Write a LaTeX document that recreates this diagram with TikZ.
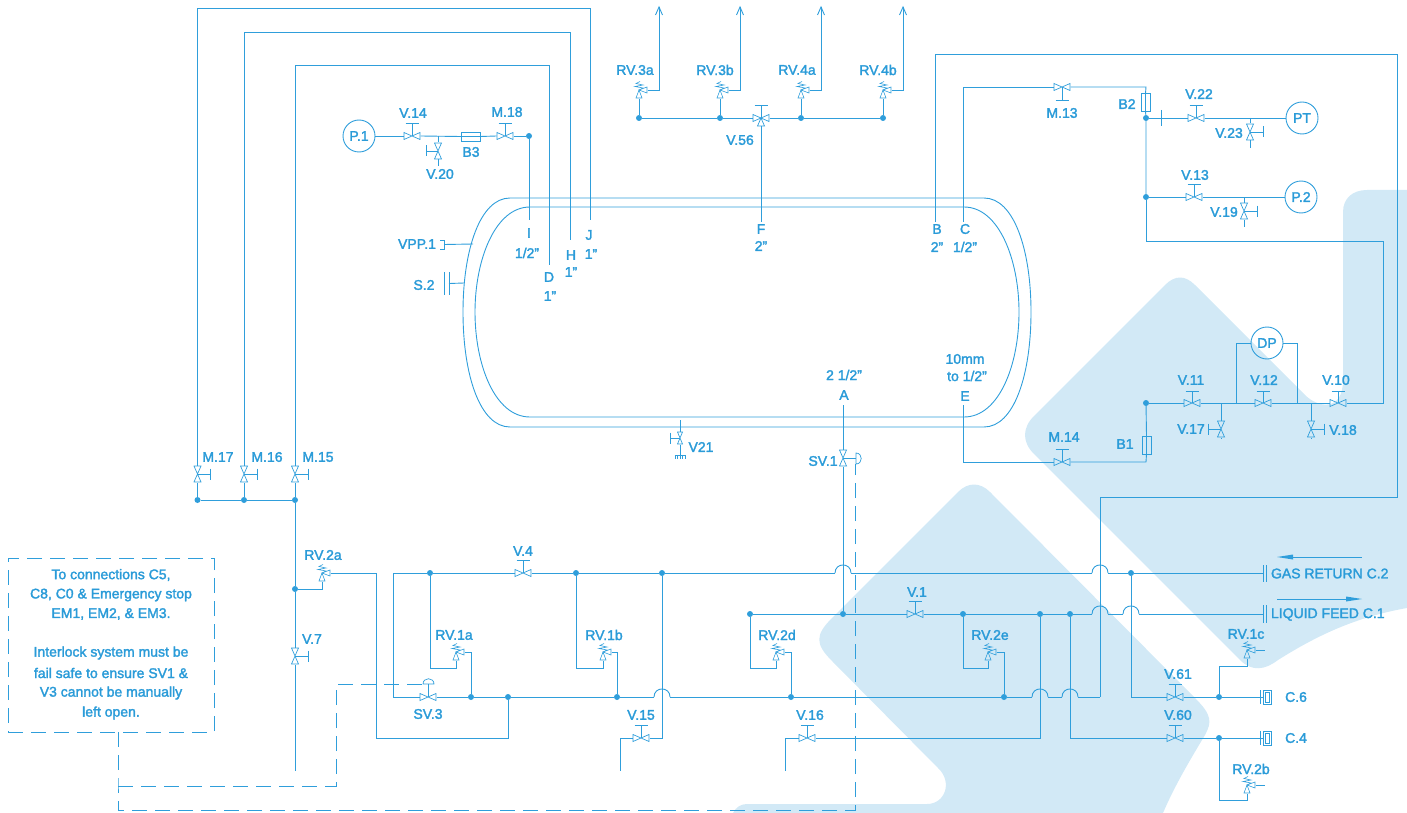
\documentclass[tikz,border=0pt]{standalone}
\usepackage{fontspec}
\setmainfont{Liberation Sans}[FakeBold=2]
\definecolor{pcol}{HTML}{2F9EDB}
\definecolor{tcol}{HTML}{2A9BD8}
\definecolor{bgcol}{HTML}{D2E9F6}
\newcount\labn
\newcommand\lab[3]{\global\advance\labn by 1 \node[lab] (T\the\labn) at (#1,#2) {#3};}
\newcommand\stemU[2]{\draw[sym] (#1.center) -- ++(0,-#2) ++(-6.5,0) -- ++(13,0);}
\newcommand\stemD[2]{\draw[sym] (#1.center) -- ++(0,#2) ++(-6.5,0) -- ++(13,0);}
\newcommand\stemR[2]{\draw[sym] (#1.center) -- ++(#2,0) ++(0,-5.5) -- ++(0,11);}
\newcommand\stemL[2]{\draw[sym] (#1.center) -- ++(-#2,0) ++(0,-5.5) -- ++(0,11);}
\newcommand\hop[3]{\coordinate (#1L) at (#2-8,#3); \coordinate (#1R) at (#2+8,#3);
  \draw[pipe] (#1L) .. controls +(0,-10.7) and +(0,-10.7) .. (#1R);}
\begin{document}
\begin{tikzpicture}[x=1pt,y=-1pt,
  pipe/.style={draw=pcol,line width=0.9pt},
  sym/.style={draw=pcol,line width=0.7pt},
  dashp/.style={draw=pcol,line width=0.9pt,dash pattern=on 15pt off 8pt},
  lab/.style={text=tcol,font=\fontsize{14}{16}\selectfont,inner sep=0pt,outer sep=0pt},
  dot/.style={circle,fill=pcol,inner sep=0pt,minimum size=6pt,outer sep=0pt},
  gauge/.style={circle,draw=pcol,line width=0.9pt,minimum size=32pt,inner sep=0pt,outer sep=0pt,text=tcol,font=\fontsize{14}{16}\selectfont},
  vh/.style={rectangle,inner sep=0pt,outer sep=0pt,minimum width=17pt,minimum height=8pt,
    path picture={\draw[sym,shift={(path picture bounding box.center)}] (-8,-3.5)--(8,3.5)--(8,-3.5)--(-8,3.5)--cycle;}},
  vv/.style={rectangle,inner sep=0pt,outer sep=0pt,minimum width=8pt,minimum height=17pt,
    path picture={\draw[sym,shift={(path picture bounding box.center)}] (-3.5,-8)--(3.5,-8)--(-3.5,8)--(3.5,8)--cycle;}},
  vt/.style={rectangle,inner sep=0pt,outer sep=0pt,minimum width=17pt,minimum height=17pt,
    path picture={\draw[sym,shift={(path picture bounding box.center)}] (-8,-3.5)--(8,3.5)--(8,-3.5)--(-8,3.5)--cycle (0,0)--(-3.5,8)--(3.5,8)--cycle;}},
  vs/.style={rectangle,inner sep=0pt,outer sep=0pt,minimum width=6pt,minimum height=13pt,
    path picture={\draw[sym,shift={(path picture bounding box.center)}] (-2.5,-6)--(2.5,-6)--(-2.5,6)--(2.5,6)--cycle;}},
  rv/.style={rectangle,inner sep=0pt,outer sep=0pt,minimum width=17pt,minimum height=18pt,
    path picture={\draw[draw=pcol,line width=0.6pt,shift={(path picture bounding box.center)}] (0,0)--(-3,8)--(3,8)--cycle (0,0)--(8,-3)--(8,3)--cycle
      (0,0)--(4,-2)--(-4,-3.5)--(4,-5)--(-3,-6.5)--(1,-8.5);}},
  break/.style={rectangle,draw=pcol,line width=0.7pt,inner sep=0pt,outer sep=0pt,minimum width=9pt,minimum height=18pt},
  conn/.style={rectangle,draw=pcol,line width=0.7pt,inner sep=0pt,outer sep=0pt,minimum width=8pt,minimum height=14pt,
    path picture={\draw[sym,shift={(path picture bounding box.center)}] (-2,-5)rectangle(2,5);}},
]
\useasboundingbox (0,0) rectangle (1407,813);
% background
\fill[bgcol] (1165,285) .. controls (1175,275) and (1185,275) .. (1195,285) -- (1305,395)
  .. controls (1318,408) and (1343,412) .. (1343,380) -- (1343,212)
  .. controls (1343,198) and (1353,190) .. (1367,190) -- (1407,190) -- (1407,608)
  .. controls (1350,618) and (1310,640) .. (1278,660)
  .. controls (1265,670) and (1252,672) .. (1240,660) -- (1034,454)
  .. controls (1022,442) and (1022,428) .. (1034,416) -- cycle;
\fill[bgcol] (958,492) .. controls (968,482) and (980,482) .. (990,492) -- (1195,698)
  .. controls (1212,715) and (1212,722) .. (1205,735)
  .. controls (1190,760) and (1175,785) .. (1163,813) -- (733,813)
  .. controls (736,807) and (741,804) .. (747,804) -- (927,804)
  .. controls (945,804) and (953,782) .. (938,768) -- (832,661)
  .. controls (815,644) and (815,635) .. (832,618) -- cycle;

% ---- vessel
\draw[pipe] (510,198) -- (984,198) .. controls (1014,198) and (1031,250) .. (1031,312)
  .. controls (1031,375) and (1014,427) .. (984,427) -- (510,427)
  .. controls (480,427) and (463,375) .. (463,312) .. controls (463,250) and (480,198) .. (510,198) -- cycle;
\draw[pipe] (530,207) -- (964,207) .. controls (999,207) and (1019,260) .. (1019,312)
  .. controls (1019,365) and (999,417) .. (964,417) -- (530,417)
  .. controls (495,417) and (475,365) .. (475,312) .. controls (475,260) and (495,207) .. (530,207) -- cycle;
\coordinate (vesL1) at (473,244); \coordinate (vesL2) at (464,283);

% ---- junction dots
\node[dot] (d17) at (197.5,500) {};
\node[dot] (d16) at (244,500) {};
\node[dot] (d15) at (295,500) {};
\node[dot] (d2a) at (295,589) {};
\node[dot] (dI) at (529,136) {};
\node[dot] (m1) at (639,118) {};
\node[dot] (m2) at (720,118) {};
\node[dot] (m3) at (801,118) {};
\node[dot] (m4) at (883,118) {};
\node[dot] (dB2) at (1146,118) {};
\node[dot] (dP2) at (1146,197) {};
\node[dot] (dB1) at (1146,403) {};
\node[dot] (g1) at (430,573) {};
\node[dot] (g2) at (576,573) {};
\node[dot] (g3) at (662,573) {};
\node[dot] (g4) at (1131,573) {};
\node[dot] (l1) at (750,614) {};
\node[dot] (l2) at (843,614) {};
\node[dot] (l3) at (963,614) {};
\node[dot] (l4) at (1040,614) {};
\node[dot] (l5) at (1070,614) {};
\node[dot] (b1) at (471,697) {};
\node[dot] (b2) at (508,697) {};
\node[dot] (b3) at (617,697) {};
\node[dot] (b4) at (791,697) {};
\node[dot] (b5) at (1004,697) {};
\node[dot] (r1) at (1219,697) {};
\node[dot] (r2) at (1219,738) {};

% ---- valves
\node[vv] (M17) at (197.5,474) {}; \stemR{M17}{13}
\node[vv] (M16) at (244,474) {}; \stemR{M16}{13}
\node[vv] (M15) at (295,474) {}; \stemR{M15}{13}
\node[vv] (V7) at (295,656) {}; \stemR{V7}{13}
\node[vh] (V14) at (412,136) {}; \stemU{V14}{13}
\node[vv] (V20) at (438,151) {}; \stemL{V20}{12}
\node[vh] (M18) at (505,136) {}; \stemU{M18}{13}
\node[vt] (V56) at (761,118) {}; \stemU{V56}{13}
\node[vh] (M13) at (1062,87) {}; \stemD{M13}{13}
\node[vh] (V22) at (1196,118) {}; \stemU{V22}{13}
\node[vv] (V23) at (1250,132) {}; \stemR{V23}{13}
\node[vh] (V13) at (1194,197) {}; \stemU{V13}{13}
\node[vv] (V19) at (1244,211) {}; \stemR{V19}{13}
\node[vh] (V11) at (1192,403) {}; \stemU{V11}{12}
\node[vh] (V12) at (1263,403) {}; \stemU{V12}{12}
\node[vh] (V10) at (1338,403) {}; \stemU{V10}{12}
\node[vv] (V17) at (1221,429) {}; \stemL{V17}{13}
\node[vv] (V18) at (1311,429) {}; \stemR{V18}{13}
\node[vh] (M14) at (1062,462) {}; \stemU{M14}{13}
\node[vv] (SV1) at (843,458) {};
\node[vh] (V4) at (523,573) {}; \stemU{V4}{13}
\node[vh] (V1) at (915,614) {}; \stemU{V1}{13}
\node[vh] (SV3) at (428,697) {};
\node[vh] (V15) at (641,738) {}; \stemU{V15}{13}
\node[vh] (V16) at (807,738) {}; \stemU{V16}{13}
\node[vh] (V61) at (1175,697) {}; \stemU{V61}{13}
\node[vh] (V60) at (1175,738) {}; \stemU{V60}{13}
\node[vs] (V21) at (680,438) {}; \stemL{V21}{10}

% ---- relief valves
\node[rv] (R3a) at (639,90) {};
\node[rv] (R3b) at (720,90) {};
\node[rv] (R4a) at (801,90) {};
\node[rv] (R4b) at (883,90) {};
\node[rv] (R2a) at (322,573) {};
\node[rv] (R1a) at (456,652) {};
\node[rv] (R1b) at (603,652) {};
\node[rv] (R2d) at (776,652) {};
\node[rv] (R2e) at (988,652) {};
\node[rv] (R1c) at (1247,650) {};
\node[rv] (R2b) at (1247,785) {};

% ---- gauges and breaks
\node[gauge] (P1) at (359,136) {P.1};
\node[gauge] (PT) at (1302,118) {PT};
\node[gauge] (P2) at (1301,197) {P.2};
\node[gauge] (DP) at (1267,343) {DP};
\node[break,minimum width=19pt,minimum height=9pt] (B3) at (470.5,136.5) {};
\node[break] (B2) at (1145.5,102) {};
\node[break] (B1) at (1146.5,445) {};
\draw[sym] (B3.west) -- (B3.east);
\draw[sym] (B2.north) -- (B2.south);
\draw[sym] (B1.north) -- (B1.south);
\node[conn] (C6) at (1267,697) {};
\node[conn] (C4) at (1267,738) {};

% ---- upper-left sense lines
\coordinate (jt1) at (197.5,8); \coordinate (jt2) at (590,8); \coordinate (Jend) at (590,220);
\coordinate (ht1) at (244,32); \coordinate (ht2) at (570,32); \coordinate (Hend) at (570,240);
\coordinate (dt1) at (295,65); \coordinate (dt2) at (549,65); \coordinate (Dend) at (549,265);
\coordinate (Iend) at (529,220);
\draw[pipe] (d17) -- (M17.south);
\draw[pipe] (M17.north) -- (jt1) -- (jt2) -- (Jend);
\draw[pipe] (d16) -- (M16.south);
\draw[pipe] (M16.north) -- (ht1) -- (ht2) -- (Hend);
\draw[pipe] (d15) -- (M15.south);
\draw[pipe] (M15.north) -- (dt1) -- (dt2) -- (Dend);
\draw[pipe] (d17) -- (d16) -- (d15) -- (d2a);
\draw[pipe] (d2a) -- (V7.north);
\coordinate (v7end) at (295,771);
\draw[pipe] (V7.south) -- (v7end);
\draw[pipe] (dI) -- (Iend);

% P.1 line
\coordinate (v20t) at (438,136); \coordinate (v20b) at (438,166);
\draw[pipe] (P1) -- (V14.west);
\draw[pipe] (V14.east) -- (B3.west);
\draw[pipe] (B3.east) -- (M18.west);
\draw[pipe] (M18.east) -- (dI);
\draw[pipe] (v20t) -- (V20.north);
\draw[pipe] (V20.south) -- (v20b);

% vent manifold
\draw[pipe] (m1) -- (m2) -- (V56.west);
\draw[pipe] (V56.east) -- (m3) -- (m4);
\coordinate (Fend) at (761,222);
\draw[pipe] (V56.south) -- (Fend);
\draw[pipe] (m1) -- (R3a.south);
\draw[pipe] (m2) -- (R3b.south);
\draw[pipe] (m3) -- (R4a.south);
\draw[pipe] (m4) -- (R4b.south);
\foreach \n/\x in {R3a/659,R3b/740,R4a/821,R4b/903}{
  \coordinate (\n c) at (\x,90); \coordinate (\n t) at (\x,7);
  \draw[pipe] (\n.east) -- (\n c) -- (\n t);
  \draw[pipe] (\x-3.5,15) -- (\n t) -- (\x+3.5,15);
}

% right side
\coordinate (Bend) at (935,222); \coordinate (Bc1) at (935,54); \coordinate (Bc2) at (1397,54);
\coordinate (Bc3) at (1397,497); \coordinate (Bc4) at (1100,497); \coordinate (Bc5) at (1100,697);
\draw[pipe] (Bend) -- (Bc1) -- (Bc2) -- (Bc3) -- (Bc4) -- (Bc5);
\coordinate (Cend) at (963,222); \coordinate (Cc1) at (963,87); \coordinate (Cc2) at (1146,87);
\draw[pipe] (Cend) -- (Cc1) -- (M13.west);
\draw[pipe] (M13.east) -- (Cc2) -- (B2.north);
\draw[pipe] (B2.south) -- (dB2) -- (dP2);
\coordinate (c3) at (1146,241); \coordinate (c4) at (1383,241); \coordinate (c5) at (1383,403);
\draw[pipe] (dP2) -- (c3) -- (c4) -- (c5) -- (V10.east);
\coordinate (tick1) at (1161,110); \coordinate (tick2) at (1161,126);
\draw[pipe] (tick1) -- (tick2);
\draw[pipe] (dB2) -- (V22.west);
\draw[pipe] (V22.east) -- (PT);
\coordinate (v23t) at (1250,118); \coordinate (v23b) at (1250,148);
\draw[pipe] (v23t) -- (V23.north); \draw[pipe] (V23.south) -- (v23b);
\draw[pipe] (dP2) -- (V13.west);
\draw[pipe] (V13.east) -- (P2);
\coordinate (v19t) at (1244,197); \coordinate (v19b) at (1244,227);
\draw[pipe] (v19t) -- (V19.north); \draw[pipe] (V19.south) -- (v19b);
\draw[pipe] (dB1) -- (V11.west);
\coordinate (dpl) at (1236,403); \coordinate (dpr) at (1297,403);
\coordinate (v17t) at (1221,403); \coordinate (v18t) at (1311,403);
\coordinate (v17b) at (1221,438); \coordinate (v18b) at (1311,438);
\draw[pipe] (V11.east) -- (V12.west);
\draw[pipe] (V12.east) -- (V10.west);
\draw[pipe] (v17t) -- (V17.north); \draw[pipe] (V17.south) -- (v17b);
\draw[pipe] (v18t) -- (V18.north); \draw[pipe] (V18.south) -- (v18b);
\draw[pipe] (dpl) |- (DP.west);
\draw[pipe] (dpr) |- (DP.east);
\draw[pipe] (dB1) -- (B1.north);
\coordinate (ec1) at (1146,462); \coordinate (ec2) at (963,462); \coordinate (Eend) at (963,405);
\draw[pipe] (B1.south) -- (ec1) -- (M14.east);
\draw[pipe] (M14.west) -- (ec2) -- (Eend);

% vessel stubs
\node[inner sep=0pt,outer sep=0pt,minimum width=4pt,minimum height=9pt] (VPP) at (442,244.5) {};
\draw[sym] (VPP.north west) -- (VPP.north east) -- (VPP.south east) -- (VPP.south west);
\draw[pipe] (VPP.east) -- (vesL1);
\node[inner sep=0pt,outer sep=0pt,minimum width=5pt,minimum height=23pt] (S2) at (446.5,283.5) {};
\draw[sym] (S2.north west) -- (S2.south west);
\draw[sym] (S2.north east) -- (S2.south east);
\draw[pipe] (S2.east) -- (vesL2);
% V21
\coordinate (v21t) at (680,420);
\node[inner sep=0pt,outer sep=0pt,minimum width=11pt,minimum height=4pt] (gnd) at (680,457) {};
\draw[pipe] (v21t) -- (V21.north);
\draw[pipe] (V21.south) -- (gnd.north);
\draw[sym] (gnd.north west) -- (gnd.north east);
\foreach \x in {675,677.5,680,682.5,685}{\draw[draw=pcol,line width=0.5pt] (\x,455) -- (\x,459);}

% A line and SV.1
\coordinate (Aend) at (843,405);
\draw[pipe] (Aend) -- (SV1.north);
\draw[pipe] (SV1.south) -- (l2);
\coordinate (sv1h) at (856,458);
\draw[sym] (SV1.center) -- (sv1h);
\draw[sym] (856,453) .. controls (863,453) and (863,464) .. (856,464) -- cycle;

% gas return (upper) line
\hop{ha}{843}{573}
\hop{hb}{1100}{573}
\hop{hc}{1100}{614}
\hop{hd}{1131}{614}
\hop{he}{662}{697}
\hop{hf}{1040}{697}
\hop{hg}{1070}{697}
\coordinate (gc0) at (393,573); \coordinate (gc1) at (393,697);
\draw[pipe] (gc1) -- (gc0) -- (g1) -- (V4.west);
\draw[pipe] (V4.east) -- (g2) -- (g3) -- (haL);
\coordinate (Gend) at (1263,573);
\draw[pipe] (haR) -- (hbL);
\draw[pipe] (hbR) -- (g4) -- (Gend);
\draw[pipe] (gc1) -- (SV3.west);
\draw[pipe] (SV3.east) -- (b1) -- (b2) -- (b3) -- (heL);
\draw[pipe] (heR) -- (b4) -- (b5) -- (hfL);
\draw[pipe] (hfR) -- (hgL);
\draw[pipe] (hgR) -- (Bc5);
% liquid line
\coordinate (Lend) at (1263,614);
\draw[pipe] (l1) -- (l2) -- (V1.west);
\draw[pipe] (V1.east) -- (l3) -- (l4) -- (l5) -- (hcL);
\draw[pipe] (hcR) -- (hdL);
\draw[pipe] (hdR) -- (Lend);
% terminal bars
\draw[sym] (1263,565) -- (1263,582) (1266,565) -- (1266,582);
\draw[sym] (1263,605) -- (1263,623) (1266,605) -- (1266,623);

% RV.2a
\coordinate (r2ac) at (322,589);
\coordinate (r2a1) at (376,573); \coordinate (r2a2) at (376,738); \coordinate (r2a3) at (508,738);
\draw[pipe] (d2a) -- (r2ac) -- (R2a.south);
\draw[pipe] (R2a.east) -- (r2a1) -- (r2a2) -- (r2a3) -- (b2);
% RV.1a etc
\coordinate (r1a1) at (430,668); \coordinate (r1a2) at (456,668); \coordinate (r1a3) at (471,652);
\draw[pipe] (g1) -- (r1a1) -- (r1a2) -- (R1a.south);
\draw[pipe] (R1a.east) -- (r1a3) -- (b1);
\coordinate (r1b1) at (576,668); \coordinate (r1b2) at (603,668); \coordinate (r1b3) at (617,652);
\draw[pipe] (g2) -- (r1b1) -- (r1b2) -- (R1b.south);
\draw[pipe] (R1b.east) -- (r1b3) -- (b3);
\coordinate (r2d1) at (750,668); \coordinate (r2d2) at (776,668); \coordinate (r2d3) at (791,652);
\draw[pipe] (l1) -- (r2d1) -- (r2d2) -- (R2d.south);
\draw[pipe] (R2d.east) -- (r2d3) -- (b4);
\coordinate (r2e1) at (963,668); \coordinate (r2e2) at (988,668); \coordinate (r2e3) at (1004,652);
\draw[pipe] (l3) -- (r2e1) -- (r2e2) -- (R2e.south);
\draw[pipe] (R2e.east) -- (r2e3) -- (b5);
% V.15, V.16
\coordinate (v15e) at (662,738); \coordinate (v15w) at (620,738); \coordinate (v15b) at (620,771);
\draw[pipe] (g3) -- (v15e) -- (V15.east);
\draw[pipe] (V15.west) -- (v15w) -- (v15b);
\coordinate (v16e) at (1040,738); \coordinate (v16w) at (785,738); \coordinate (v16b) at (785,771);
\draw[pipe] (l4) -- (v16e) -- (V16.east);
\draw[pipe] (V16.west) -- (v16w) -- (v16b);
% V.60, V.61
\coordinate (v60w) at (1070,738); \coordinate (v61w) at (1131,697);
\draw[pipe] (l5) -- (v60w) -- (V60.west);
\draw[pipe] (V60.east) -- (r2) -- (C4.west);
\draw[pipe] (g4) -- (v61w) -- (V61.west);
\draw[pipe] (V61.east) -- (r1) -- (C6.west);
\draw[sym] (1260,690) -- (1260,704) (1260,731) -- (1260,745);
% RV.1c, RV.2b
\coordinate (r1c1) at (1219,666); \coordinate (r1c2) at (1247,666); \coordinate (r1c3) at (1265,650);
\draw[pipe] (r1) -- (r1c1) -- (r1c2) -- (R1c.south);
\draw[pipe] (R1c.east) -- (r1c3);
\coordinate (r2b1) at (1219,800); \coordinate (r2b2) at (1247,800); \coordinate (r2b3) at (1265,785);
\draw[pipe] (r2) -- (r2b1) -- (r2b2) -- (R2b.south);
\draw[pipe] (R2b.east) -- (r2b3);
% flow arrows
\fill[pcol] (1277,557) -- (1293,554.5) -- (1293,559.5) -- cycle;
\draw[pipe] (1293,557) -- (1362,557);
\fill[pcol] (1362,599) -- (1346,596.5) -- (1346,601.5) -- cycle;
\draw[pipe] (1277,599) -- (1346,599);

% ---- interlock box, dashed control lines
\node[rectangle,draw=pcol,line width=0.9pt,dash pattern=on 15pt off 8pt,minimum width=206pt,minimum height=174pt,inner sep=0pt,outer sep=0pt] (box) at (111,645) {};
\coordinate (dj1) at (118,786); \coordinate (dj2) at (118,810); \coordinate (dj3) at (855,810);
\coordinate (dj4) at (855,464); \coordinate (dj5) at (336,786); \coordinate (dj6) at (336,684);
\coordinate (dj7) at (423,684); \coordinate (dbot) at (118,732);
\draw[dashp] (dbot) -- (dj1) -- (dj2) -- (dj3) -- (dj4);
\draw[dashp] (dj1) -- (dj5) -- (dj6) -- (dj7);
% SV.3 actuator
\coordinate (sv3top) at (428,684);
\draw[sym] (SV3.center) -- (sv3top);
\draw[sym] (423,684) .. controls (423,677) and (434,677) .. (434,684) -- cycle;

% ---- labels
\lab{218}{457}{M.17}\lab{267}{457}{M.16}\lab{318}{457}{M.15}
\lab{323}{555}{RV.2a}\lab{312}{639}{V.7}
\lab{413}{113}{V.14}\lab{440}{174}{V.20}\lab{471}{152}{B3}\lab{507}{112}{M.18}
\lab{635}{70}{RV.3a}\lab{715}{70}{RV.3b}\lab{797}{70}{RV.4a}\lab{878}{70}{RV.4b}\lab{740}{140}{V.56}
\lab{1062}{113}{M.13}\lab{1127}{104}{B2}\lab{1199}{94}{V.22}\lab{1229}{133}{V.23}
\lab{1195}{175}{V.13}\lab{1224}{212}{V.19}
\lab{1191}{380}{V.11}\lab{1264}{380}{V.12}\lab{1336}{380}{V.10}
\lab{1191}{429}{V.17}\lab{1343}{430}{V.18}\lab{1125}{444}{B1}\lab{1064}{437}{M.14}
\lab{417}{244}{VPP.1}\lab{424}{285}{S.2}
\lab{529}{233}{I}\lab{527}{253}{1/2”}
\lab{549}{277}{D}\lab{550}{296}{1”}
\lab{571}{255}{H}\lab{571}{272}{1”}
\lab{589}{235}{J}\lab{591}{254}{1”}
\lab{761}{229}{F}\lab{761}{246}{2”}
\lab{937}{229}{B}\lab{937}{247}{2”}
\lab{965}{229}{C}\lab{965}{247}{1/2”}
\lab{965}{359}{10mm}\lab{967}{376}{to 1/2”}\lab{965}{396}{E}
\lab{844}{375}{2 1/2”}\lab{844}{395}{A}
\lab{701}{447}{V21}\lab{823}{461}{SV.1}
\lab{523}{551}{V.4}\lab{428}{714}{SV.3}
\lab{454}{635}{RV.1a}\lab{604}{635}{RV.1b}\lab{777}{635}{RV.2d}\lab{990}{635}{RV.2e}
\lab{641}{715}{V.15}\lab{810}{715}{V.16}\lab{917}{592}{V.1}
\lab{1178}{674}{V.61}\lab{1178}{715}{V.60}
\lab{1246}{634}{RV.1c}\lab{1251}{769}{RV.2b}
\lab{1296}{697}{C.6}\lab{1296}{738}{C.4}
\node[lab,anchor=west] (gr) at (1271,573.5) {GAS RETURN C.2};
\node[lab,anchor=west] (lf) at (1271,614.5) {LIQUID FEED C.1};
\lab{111}{575}{To connections C5,}
\lab{111}{595}{C8, C0 \& Emergency  stop}
\lab{111}{614}{EM1, EM2, \& EM3.}
\lab{111}{653}{Interlock system must be}
\lab{111}{673}{fail safe to ensure SV1 \&}
\lab{111}{693}{V3 cannot be manually}
\lab{111}{713}{left open.}
\end{tikzpicture}
\end{document}
